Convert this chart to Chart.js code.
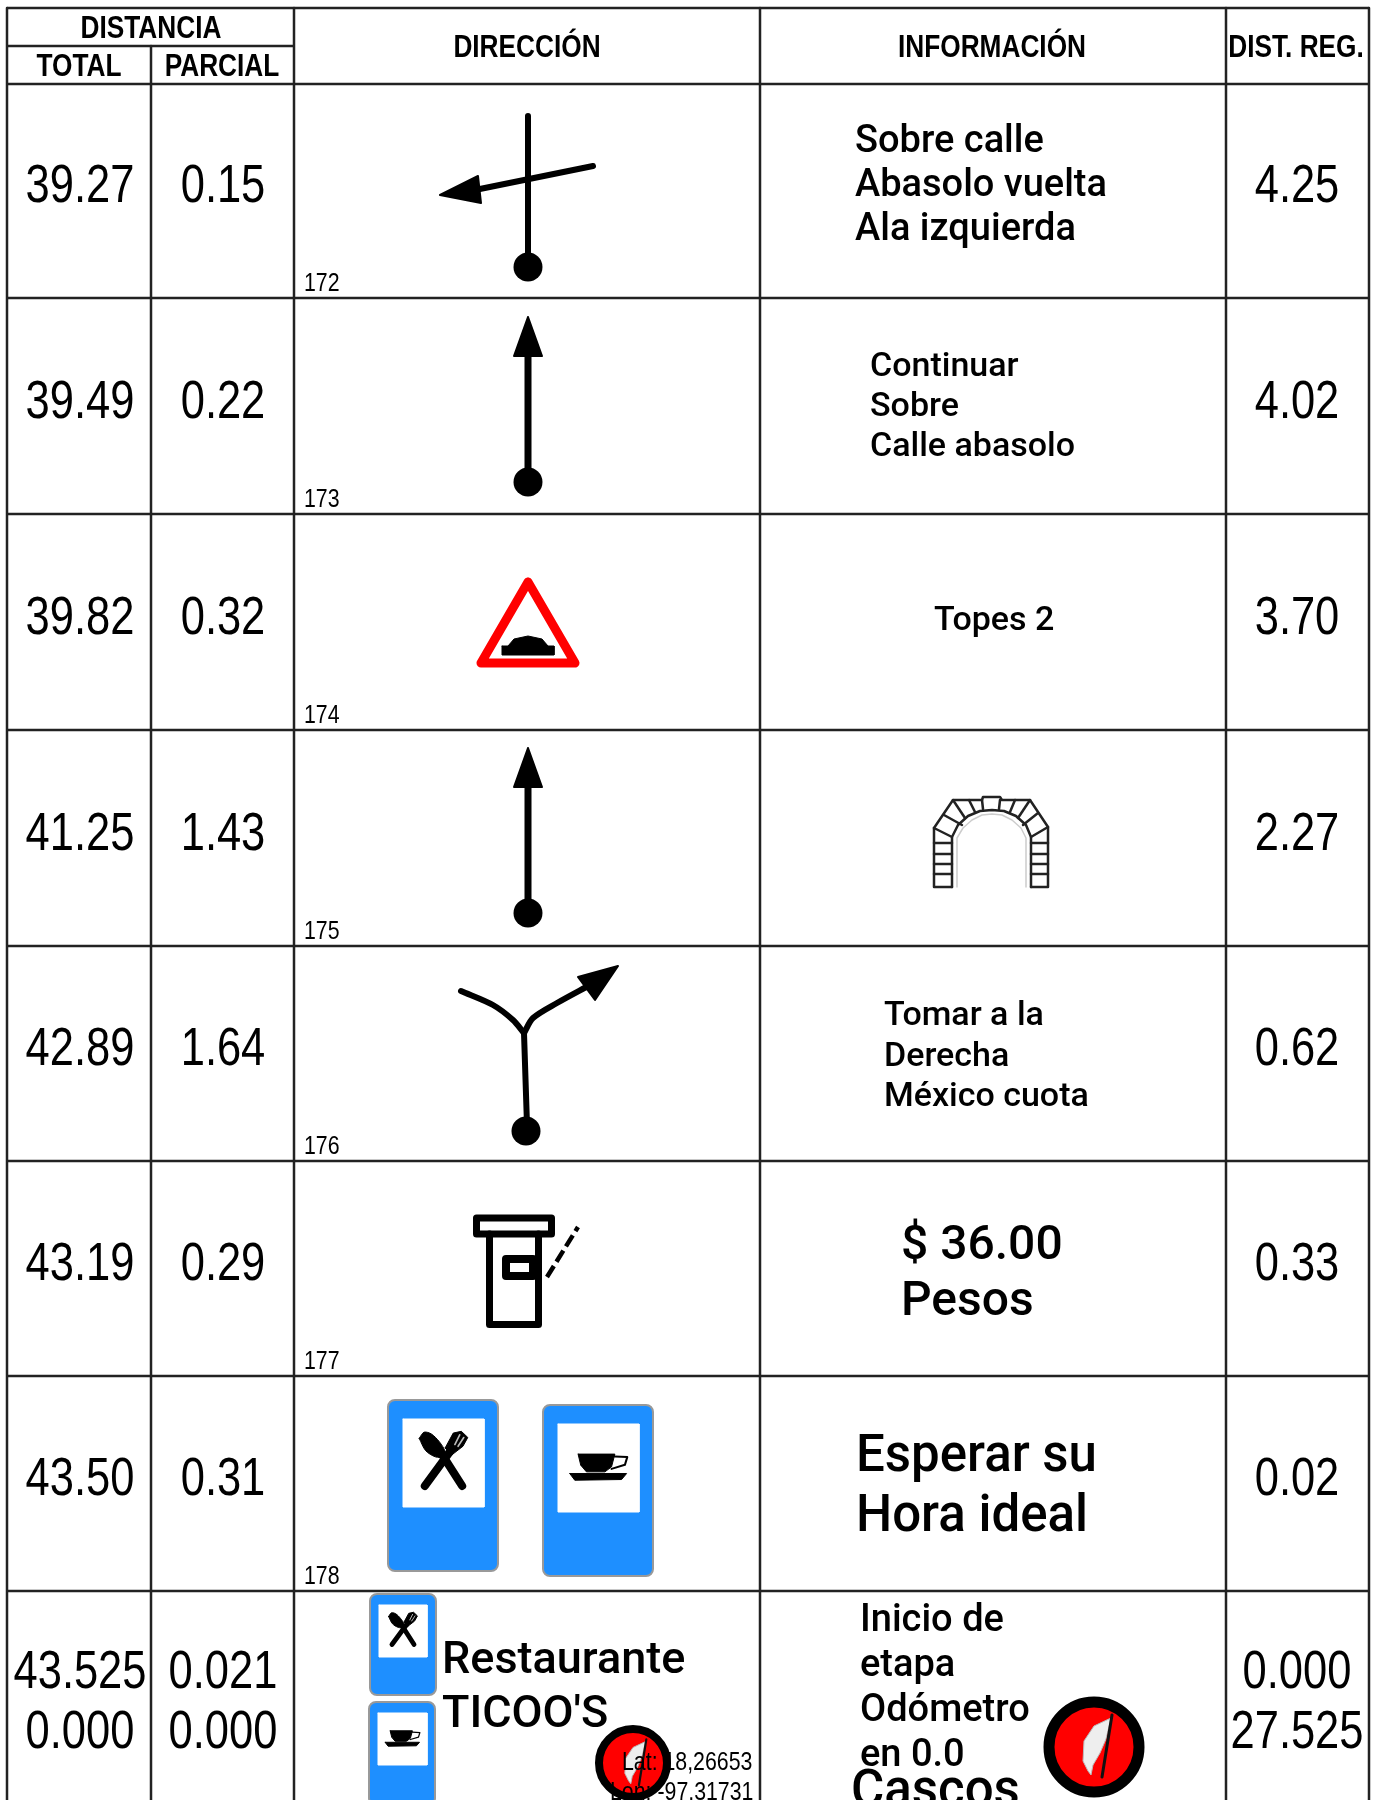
<!DOCTYPE html>
<html>
<head>
<meta charset="utf-8">
<title>Roadbook</title>
<script src="https://cdn.jsdelivr.net/npm/chart.js@4/dist/chart.umd.min.js"></script>
<style>
  html, body { margin: 0; padding: 0; background: #fff; overflow: hidden; }
  canvas { display: block; }
</style>
</head>
<body>
<canvas id="roadbook" width="1381" height="1800"></canvas>
<script>
// Table values, one entry per row
const rowIds = ['172', '173', '174', '175', '176', '177', '178', '179'];
const totals = ['39.27', '39.49', '39.82', '41.25', '42.89', '43.19', '43.50', '43.525'];
const partials = ['0.15', '0.22', '0.32', '1.43', '1.64', '0.29', '0.31', '0.021'];
const regulated = ['4.25', '4.02', '3.70', '2.27', '0.62', '0.33', '0.02', '0.000'];
const lastTotals = ['0.000', '0.000', '27.525'];
const infoLines = [
    ['Sobre calle', 'Abasolo vuelta', 'Ala izquierda'],
    ['Continuar', 'Sobre', 'Calle abasolo'],
    ['Topes 2'],
    [],
    ['Tomar a la', 'Derecha', 'México cuota'],
    ['$ 36.00', 'Pesos'],
    ['Esperar su', 'Hora ideal'],
    ['Inicio de', 'etapa', 'Odómetro', 'en 0.0']
];
const headers = ['DISTANCIA', 'TOTAL', 'PARCIAL', 'DIRECCIÓN', 'INFORMACIÓN', 'DIST. REG.'];
const restaurant = ['Restaurante', "TICOO'S"];
const coords = ['Lat: 18,26653', 'Lon: -97,31731'];
const helmets = 'Cascos';

// Layout of the sheet, in page units
const columnLines = [7, 151, 294, 760, 1226, 1369];
const rowLines = [8, 46, 84, 298, 514, 730, 946, 1161, 1376, 1591];
const numberCentres = [80, 223, 1297];
const infoLayout = [
    { x: 855, y: 152, step: 44, size: 38, weight: 500 },
    { x: 870, y: 376, step: 40, size: 34, weight: 500 },
    { x: 934, y: 630, step: 0, size: 34, weight: 500 },
    null,
    { x: 884, y: 1025, step: 40.5, size: 34, weight: 500 },
    { x: 901, y: 1259, step: 56, size: 48, weight: 500 },
    { x: 856, y: 1471, step: 60, size: 51, weight: 500 },
    { x: 860, y: 1631, step: 45, size: 38, weight: 500 }
];

const INK = '#000';
const LINE = '#222';
const RED = '#ff0000';
const BLUE = '#1e8fff';
const datasets = [];

function toPoints(points) {
    return points.map(p => ({ x: p[0], y: p[1] }));
}

function stroke(points, color, width, extra) {
    datasets.push(Object.assign({
        data: toPoints(points),
        showLine: true,
        borderColor: color,
        borderWidth: width,
        borderCapStyle: 'round',
        borderJoinStyle: 'round',
        pointRadius: 0,
        fill: false,
        tension: 0
    }, extra || {}));
}

function polygon(points, fillColor, lineColor, width, extra) {
    stroke(points.concat([points[0]]), lineColor, width, Object.assign({
        fill: 'shape',
        backgroundColor: fillColor
    }, extra || {}));
}

function dot(x, y, radius, fillColor, ringColor, ringWidth) {
    datasets.push({
        data: [{ x: x, y: y }],
        showLine: false,
        pointRadius: radius,
        pointBackgroundColor: fillColor,
        pointBorderColor: ringColor || fillColor,
        pointBorderWidth: ringWidth || 0
    });
}

function rect(x0, y0, x1, y1) {
    return [[x0, y0], [x1, y0], [x1, y1], [x0, y1]];
}

// Straight arrow with a start dot, used by rows 173 and 175
function upArrow(tip, base, start) {
    stroke([[528, base], [528, start]], INK, 7);
    polygon([[528, tip], [542, base], [514, base]], INK, INK, 2);
    dot(528, start, 14.5, INK);
}

// Blue service sign with a white window, icon placed inside the window
function sign(x0, y0, x1, y1, wx0, wy0, wx1, wy1, icon) {
    polygon(rect(x0 + 8, y0 + 8, x1 - 8, y1 - 8), '#999', '#999', 16);
    polygon(rect(x0 + 8, y0 + 8, x1 - 8, y1 - 8), BLUE, BLUE, 12);
    polygon(rect(wx0, wy0, wx1, wy1), '#fff', '#fff', 1);
    const w = wx1 - wx0;
    const h = wy1 - wy0;
    const place = pts => pts.map(p => [wx0 + p[0] * w, wy0 + p[1] * h]);
    const thick = w * 0.1;
    if (icon === 'cutlery') {
        polygon(place([[.20, .22], [.26, .15], [.35, .17], [.45, .26], [.52, .37], [.50, .43], [.40, .43], [.28, .36]]), INK, INK, 1, { tension: 0.3 });
        stroke(place([[.48, .40], [.73, .76]]), INK, thick);
        stroke(place([[.27, .76], [.58, .37]]), INK, thick);
        polygon(place([[.52, .33], [.62, .16], [.72, .14], [.80, .21], [.74, .31], [.60, .41]]), INK, INK, 1);
        stroke(place([[.64, .29], [.70, .18]]), '#bbb', w * 0.02);
        stroke(place([[.68, .31], [.75, .21]]), '#bbb', w * 0.02);
    } else {
        polygon(place([[.248, .342], [.702, .342], [.661, .487], [.579, .544], [.351, .544], [.281, .468]]), INK, INK, 1);
        stroke(place([[.702, .369], [.855, .376], [.826, .464], [.661, .51]]), INK, w * 0.025);
        polygon(place([[.145, .563], [.847, .563], [.785, .631], [.207, .639]]), INK, INK, 1);
    }
}

// Red start badge with the white flag
function badge(cx, cy, radius, ring, k) {
    dot(cx, cy, radius, RED, INK, ring);
    const flag = [[17, -29], [0, -21], [-10, -6], [-11, 14], [-6, 24], [-3, 28], [-1, 18], [6, 6], [12, -8]];
    polygon(flag.map(p => [cx + p[0] * k, cy + p[1] * k]), '#eee', '#bbb', 1);
    stroke([[cx + 18 * k, cy - 32 * k], [cx + 8 * k, cy + 30 * k]], '#111', 3 * k);
}

// Grid of the sheet
[0, 2, 3, 4, 5, 6, 7, 8, 9].forEach(i => {
    stroke([[columnLines[0], rowLines[i]], [columnLines[5], rowLines[i]]], LINE, 2.5, { borderCapStyle: 'butt' });
});
stroke([[columnLines[0], rowLines[1]], [columnLines[2], rowLines[1]]], LINE, 2.5, { borderCapStyle: 'butt' });
columnLines.forEach((x, i) => {
    const top = i === 1 ? rowLines[1] : rowLines[0];
    stroke([[x, top], [x, 1800]], LINE, 2.5, { borderCapStyle: 'butt' });
});

// Row 172: crossing, turn left
stroke([[528, 116], [528, 267]], INK, 6);
stroke([[593, 166], [470, 191]], INK, 6);
polygon([[440, 195], [478, 176], [481, 203]], INK, INK, 2);
dot(528, 267, 14.5, INK);

// Rows 173 and 175
upArrow(317, 356, 482);
upArrow(748, 787, 913);

// Row 174: speed bump sign
polygon([[528, 582], [575, 663], [481, 663]], '#fff', RED, 9);
polygon([[502, 646], [508, 646], [514, 639], [528, 636], [542, 639], [548, 646], [554, 646], [554, 655], [502, 655]], INK, INK, 1);

// Row 175: tunnel portal
stroke([[952, 887], [934, 887], [934, 828], [953, 800], [982, 800], [983, 797], [1000, 797], [1002, 800], [1030, 800], [1048, 827], [1048, 887], [1031, 887]], '#222', 2.5);
stroke([[952, 887], [952, 837], [958, 825], [968, 816], [980, 811], [992, 810], [1004, 811], [1016, 816], [1026, 825], [1031, 837], [1031, 887]], '#222', 2.5);
stroke([[957, 887], [957, 838], [963, 828], [972, 820], [982, 815], [992, 814], [1002, 815], [1012, 820], [1021, 828], [1026, 838], [1026, 887]], '#ccc', 1.5);
[843, 854, 864, 874].forEach(y => {
    stroke([[934, y], [952, y]], '#222', 2.5);
    stroke([[1031, y], [1048, y]], '#222', 2.5);
});
[[[934, 828], [952, 837]], [[944, 815], [962, 825]], [[953, 800], [965, 818]], [[969, 800], [975, 812]],
 [[982, 800], [983, 809]], [[1000, 800], [999, 809]], [[1015, 800], [1010, 812]], [[1030, 800], [1018, 818]],
 [[1038, 813], [1023, 825]], [[1048, 827], [1031, 837]]].forEach(seg => {
    stroke(seg, '#222', 2.5);
});

// Row 176: fork, keep right
stroke([[527, 1125], [524, 1033]], INK, 6);
stroke([[461, 991], [493, 1005], [513, 1020], [524, 1033]], INK, 6, { tension: 0.3 });
stroke([[524, 1033], [533, 1018], [557, 1003], [590, 985]], INK, 6, { tension: 0.3 });
polygon([[618, 966], [578, 977], [595, 1000]], INK, INK, 2);
dot(526, 1131, 14.5, INK);

// Row 177: toll booth
polygon(rect(476.5, 1218, 551.5, 1234), '#fff', INK, 7);
stroke([[489.5, 1234], [489.5, 1324.5], [538.5, 1324.5], [538.5, 1234]], INK, 7);
polygon(rect(506, 1259, 533, 1276), '#fff', INK, 8);
stroke([[547, 1277], [578, 1227]], INK, 4.5, { borderDash: [13, 5], borderCapStyle: 'butt' });

// Rows 178 and 179: service signs
sign(387, 1399, 499, 1572, 403, 1419, 484, 1507, 'cutlery');
sign(542, 1404, 654, 1577, 558, 1424, 639, 1512, 'cup');
sign(369, 1593, 437, 1696, 379, 1605, 427, 1657, 'cutlery');
sign(368, 1701, 436, 1806, 378, 1713, 427, 1765, 'cup');

// Row 179: start badges
badge(633, 1763, 34, 8, 0.74);
badge(1094, 1747, 45, 11, 1);

// Writes a text with a narrow horizontal scale, like the condensed face of the sheet
function writeText(chart, text, x, y, font, align, narrow) {
    const ctx = chart.ctx;
    ctx.save();
    ctx.translate(chart.scales.x.getPixelForValue(x), chart.scales.y.getPixelForValue(y));
    ctx.scale(narrow, 1);
    ctx.font = font;
    ctx.fillStyle = INK;
    ctx.textAlign = align;
    ctx.textBaseline = 'alphabetic';
    ctx.fillText(text, 0, 0);
    ctx.restore();
}

const sheetText = {
    id: 'sheetText',
    afterDatasetsDraw(chart) {
        const sans = '"Liberation Sans"';
        const number = '53px ' + sans;
        const head = 'bold 32px ' + sans;
        const narrow = 0.82;

        // Headers
        const headX = [151, 79, 222, 527, 992, 1296];
        const headY = [38, 76, 76, 57, 57, 57];
        headers.forEach((h, i) => writeText(chart, h, headX[i], headY[i], head, 'center', narrow));

        // Number columns and row ids
        rowIds.forEach((id, i) => {
            const base = rowLines[i + 3];
            writeText(chart, id, 304, base - 7, '26px ' + sans, 'left', narrow);
            const y = i === 7 ? 1688 : base - 96;
            writeText(chart, totals[i], numberCentres[0], y, number, 'center', narrow);
            writeText(chart, partials[i], numberCentres[1], y, number, 'center', narrow);
            writeText(chart, regulated[i], numberCentres[2], y, number, 'center', narrow);
        });
        lastTotals.forEach((v, i) => writeText(chart, v, numberCentres[i], 1748, number, 'center', narrow));

        // Information column
        infoLines.forEach((lines, i) => {
            const l = infoLayout[i];
            if (!l) return;
            lines.forEach((t, n) => {
                writeText(chart, t, l.x, l.y + n * l.step, l.weight + ' ' + l.size + 'px Roboto', 'left', 1);
            });
        });
        writeText(chart, helmets, 851, 1806, '500 51px Roboto', 'left', 1);

        // Row 179 extras
        writeText(chart, restaurant[0], 442, 1673, '500 45px Roboto', 'left', 1);
        writeText(chart, restaurant[1], 442, 1727, '500 45px Roboto', 'left', 1);
        writeText(chart, coords[0], 622, 1770, '26px ' + sans, 'left', narrow);
        writeText(chart, coords[1], 610, 1800, '26px ' + sans, 'left', narrow);
    }
};

document.addEventListener('DOMContentLoaded', function() {
    new Chart(document.getElementById('roadbook'), {
        type: 'scatter',
        // Chart.js paints the first dataset last, so flip to keep the order above
        data: { datasets: datasets.slice().reverse() },
        options: {
            responsive: false,
            animation: false,
            events: [],
            layout: { padding: 0, autoPadding: false },
            plugins: { legend: { display: false }, tooltip: { enabled: false } },
            scales: {
                x: { type: 'linear', min: 0, max: 1381, display: false },
                y: { type: 'linear', min: 0, max: 1800, reverse: true, display: false }
            }
        },
        plugins: [sheetText]
    });
});
</script>
</body>
</html>
